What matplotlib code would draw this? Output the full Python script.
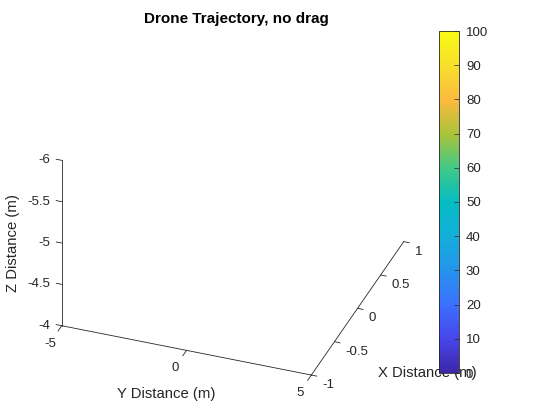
import numpy as np
import matplotlib
matplotlib.use("Agg")
import matplotlib.pyplot as plt
from matplotlib.colors import LinearSegmentedColormap, Normalize
from matplotlib.cm import ScalarMappable
from mpl_toolkits.mplot3d import proj3d

plt.rcParams['font.family'] = ['Liberation Sans', 'DejaVu Sans']

# ---------------- data / text ----------------
title_text = "Drone Trajectory, no drag"
x_label = "X Distance (m)"
y_label = "Y Distance (m)"
z_label = "Z Distance (m)"

x_limits = [-1, 1]
y_limits = [-5, 5]
z_limits = [-6, -4]
x_ticks = [-1, -0.5, 0, 0.5, 1]
y_ticks = [-5, 0, 5]
z_ticks = [-6, -5.5, -5, -4.5, -4]
x_ticklabels = ["-1", "-0.5", "0", "0.5", "1"]
y_ticklabels = ["-5", "0", "5"]
z_ticklabels = ["-6", "-5.5", "-5", "-4.5", "-4"]

cbar_limits = [0, 100]
cbar_ticks = [0, 10, 20, 30, 40, 50, 60, 70, 80, 90, 100]
cbar_ticklabels = ["0", "10", "20", "30", "40", "50", "60", "70", "80", "90", "100"]

# parula-like colormap anchors
parula_positions = [0.0, 0.1, 0.2, 0.3, 0.4, 0.5, 0.6, 0.7, 0.8, 0.9, 1.0]
parula_colors = [
    (0.243, 0.150, 0.660),
    (0.278, 0.275, 0.920),
    (0.235, 0.440, 0.995),
    (0.145, 0.580, 0.925),
    (0.075, 0.685, 0.855),
    (0.020, 0.740, 0.765),
    (0.260, 0.790, 0.530),
    (0.670, 0.765, 0.230),
    (0.990, 0.730, 0.250),
    (0.965, 0.875, 0.170),
    (0.977, 0.984, 0.081),
]

# ---------------- style ----------------
INK = (0.15, 0.15, 0.15)
W, H, DPI = 560, 420, 100
TICK_FS = 9.5
LABEL_FS = 10.7
TITLE_FS = 11
LW = 0.6

parula = LinearSegmentedColormap.from_list(
    "parula", list(zip(parula_positions, parula_colors)), N=256)

fig = plt.figure(figsize=(W / DPI, H / DPI), dpi=DPI)
ax = fig.add_axes([0, 0, 1, 1], projection='3d', proj_type='ortho')
ax.set_axis_off()
ax.set_box_aspect((1, 1, 0.735))
ax.view_init(elev=32.3, azim=-159.7)

x0, x1 = x_limits
y0, y1 = y_limits
ztop, zbot = z_limits  # z reversed: -6 on top, -4 at bottom

# rulers
ax.plot([x0, x0], [y0, y1], [zbot, zbot], color=INK, lw=LW)   # Y ruler
ax.plot([x0, x1], [y1, y1], [zbot, zbot], color=INK, lw=LW)   # X ruler
ax.plot([x0, x0], [y0, y0], [ztop, zbot], color=INK, lw=LW)   # Z ruler

# tick marks
for t in y_ticks:
    ax.plot([x0, x0 - 0.08], [t, t], [zbot, zbot], color=INK, lw=LW)
for t in x_ticks:
    ax.plot([t, t], [y1, y1 + 0.22], [zbot, zbot], color=INK, lw=LW)
for t in z_ticks:
    ax.plot([x0, x0], [y0, y0 - 0.22], [t, t], color=INK, lw=LW)

ax.set_autoscale_on(False)
ax.set_xlim(x0, x1)
ax.set_ylim(y1, y0)      # reversed
ax.set_zlim(zbot, ztop)  # reversed


def proj2d(x, y, z):
    X, Y, _ = proj3d.proj_transform(np.array([x], float), np.array([y], float),
                                    np.array([z], float), ax.get_proj())
    return float(X[0]), float(Y[0])


def label_at(x, y, z, text, dx, dy, **kw):
    ax.annotate(text, xy=proj2d(x, y, z), xycoords='data',
                xytext=(dx, dy), textcoords='offset pixels',
                annotation_clip=False, **kw)


for t, s in zip(z_ticks, z_ticklabels):
    label_at(x0, y0, t, s, -11, 0, ha='right', va='center',
             fontsize=TICK_FS, color=INK)
for t, s in zip(y_ticks, y_ticklabels):
    label_at(x0, t, zbot, s, -11, -18, ha='center', va='center',
             fontsize=TICK_FS, color=INK)
for t, s in zip(x_ticks, x_ticklabels):
    label_at(t, y1, zbot, s, 11, -10, ha='left', va='center',
             fontsize=TICK_FS, color=INK)

label_at(x0, 0.5 * (y0 + y1), zbot, y_label, -20, -44, ha='center', va='center',
         fontsize=LABEL_FS, color=INK)
label_at(0.5 * (x0 + x1), y1, zbot, x_label, 70, -65, ha='center', va='center',
         fontsize=LABEL_FS, color=INK)
label_at(x0, y0, 0.5 * (ztop + zbot), z_label, -49, 0, ha='center', va='center',
         rotation=90, fontsize=LABEL_FS, color=INK)

# ---- place the 3D box so that it matches the reference layout ----
fig.canvas.draw()
T0 = np.array([61.7, H - 325.7])   # corner (x=-1, y=-5, z=-4)
T1 = np.array([311.7, H - 373.3])  # corner (x=-1, y=5, z=-4)
p0 = ax.transData.transform(proj2d(x0, y0, zbot))
p1 = ax.transData.transform(proj2d(x0, y1, zbot))
s = np.linalg.norm(T1 - T0) / np.linalg.norm(p1 - p0)
bb = ax.bbox
C = np.array([(bb.x0 + bb.x1) / 2, (bb.y0 + bb.y1) / 2])
side = bb.width * s
Cn = T0 - (p0 - C) * s
ax.set_position([(Cn[0] - side / 2) / W, (Cn[1] - side / 2) / H, side / W, side / H])

# ---------------- colorbar ----------------
cax = fig.add_axes([439 / W, (H - 373) / H, 20 / W, 342 / H])
cb = fig.colorbar(ScalarMappable(norm=Normalize(*cbar_limits), cmap=parula),
                  cax=cax, ticks=cbar_ticks)
cb.ax.set_yticklabels(cbar_ticklabels)
cb.ax.tick_params(direction='in', length=3.5, width=0.5, colors=INK,
                  labelsize=TICK_FS, pad=5)
cb.outline.set_edgecolor(INK)
cb.outline.set_linewidth(LW)

fig.text(236 / W, 1 - 19 / H, title_text, ha='center', va='center',
         fontsize=TITLE_FS, fontweight='bold', color='black')

fig.savefig("out.png", dpi=DPI)
